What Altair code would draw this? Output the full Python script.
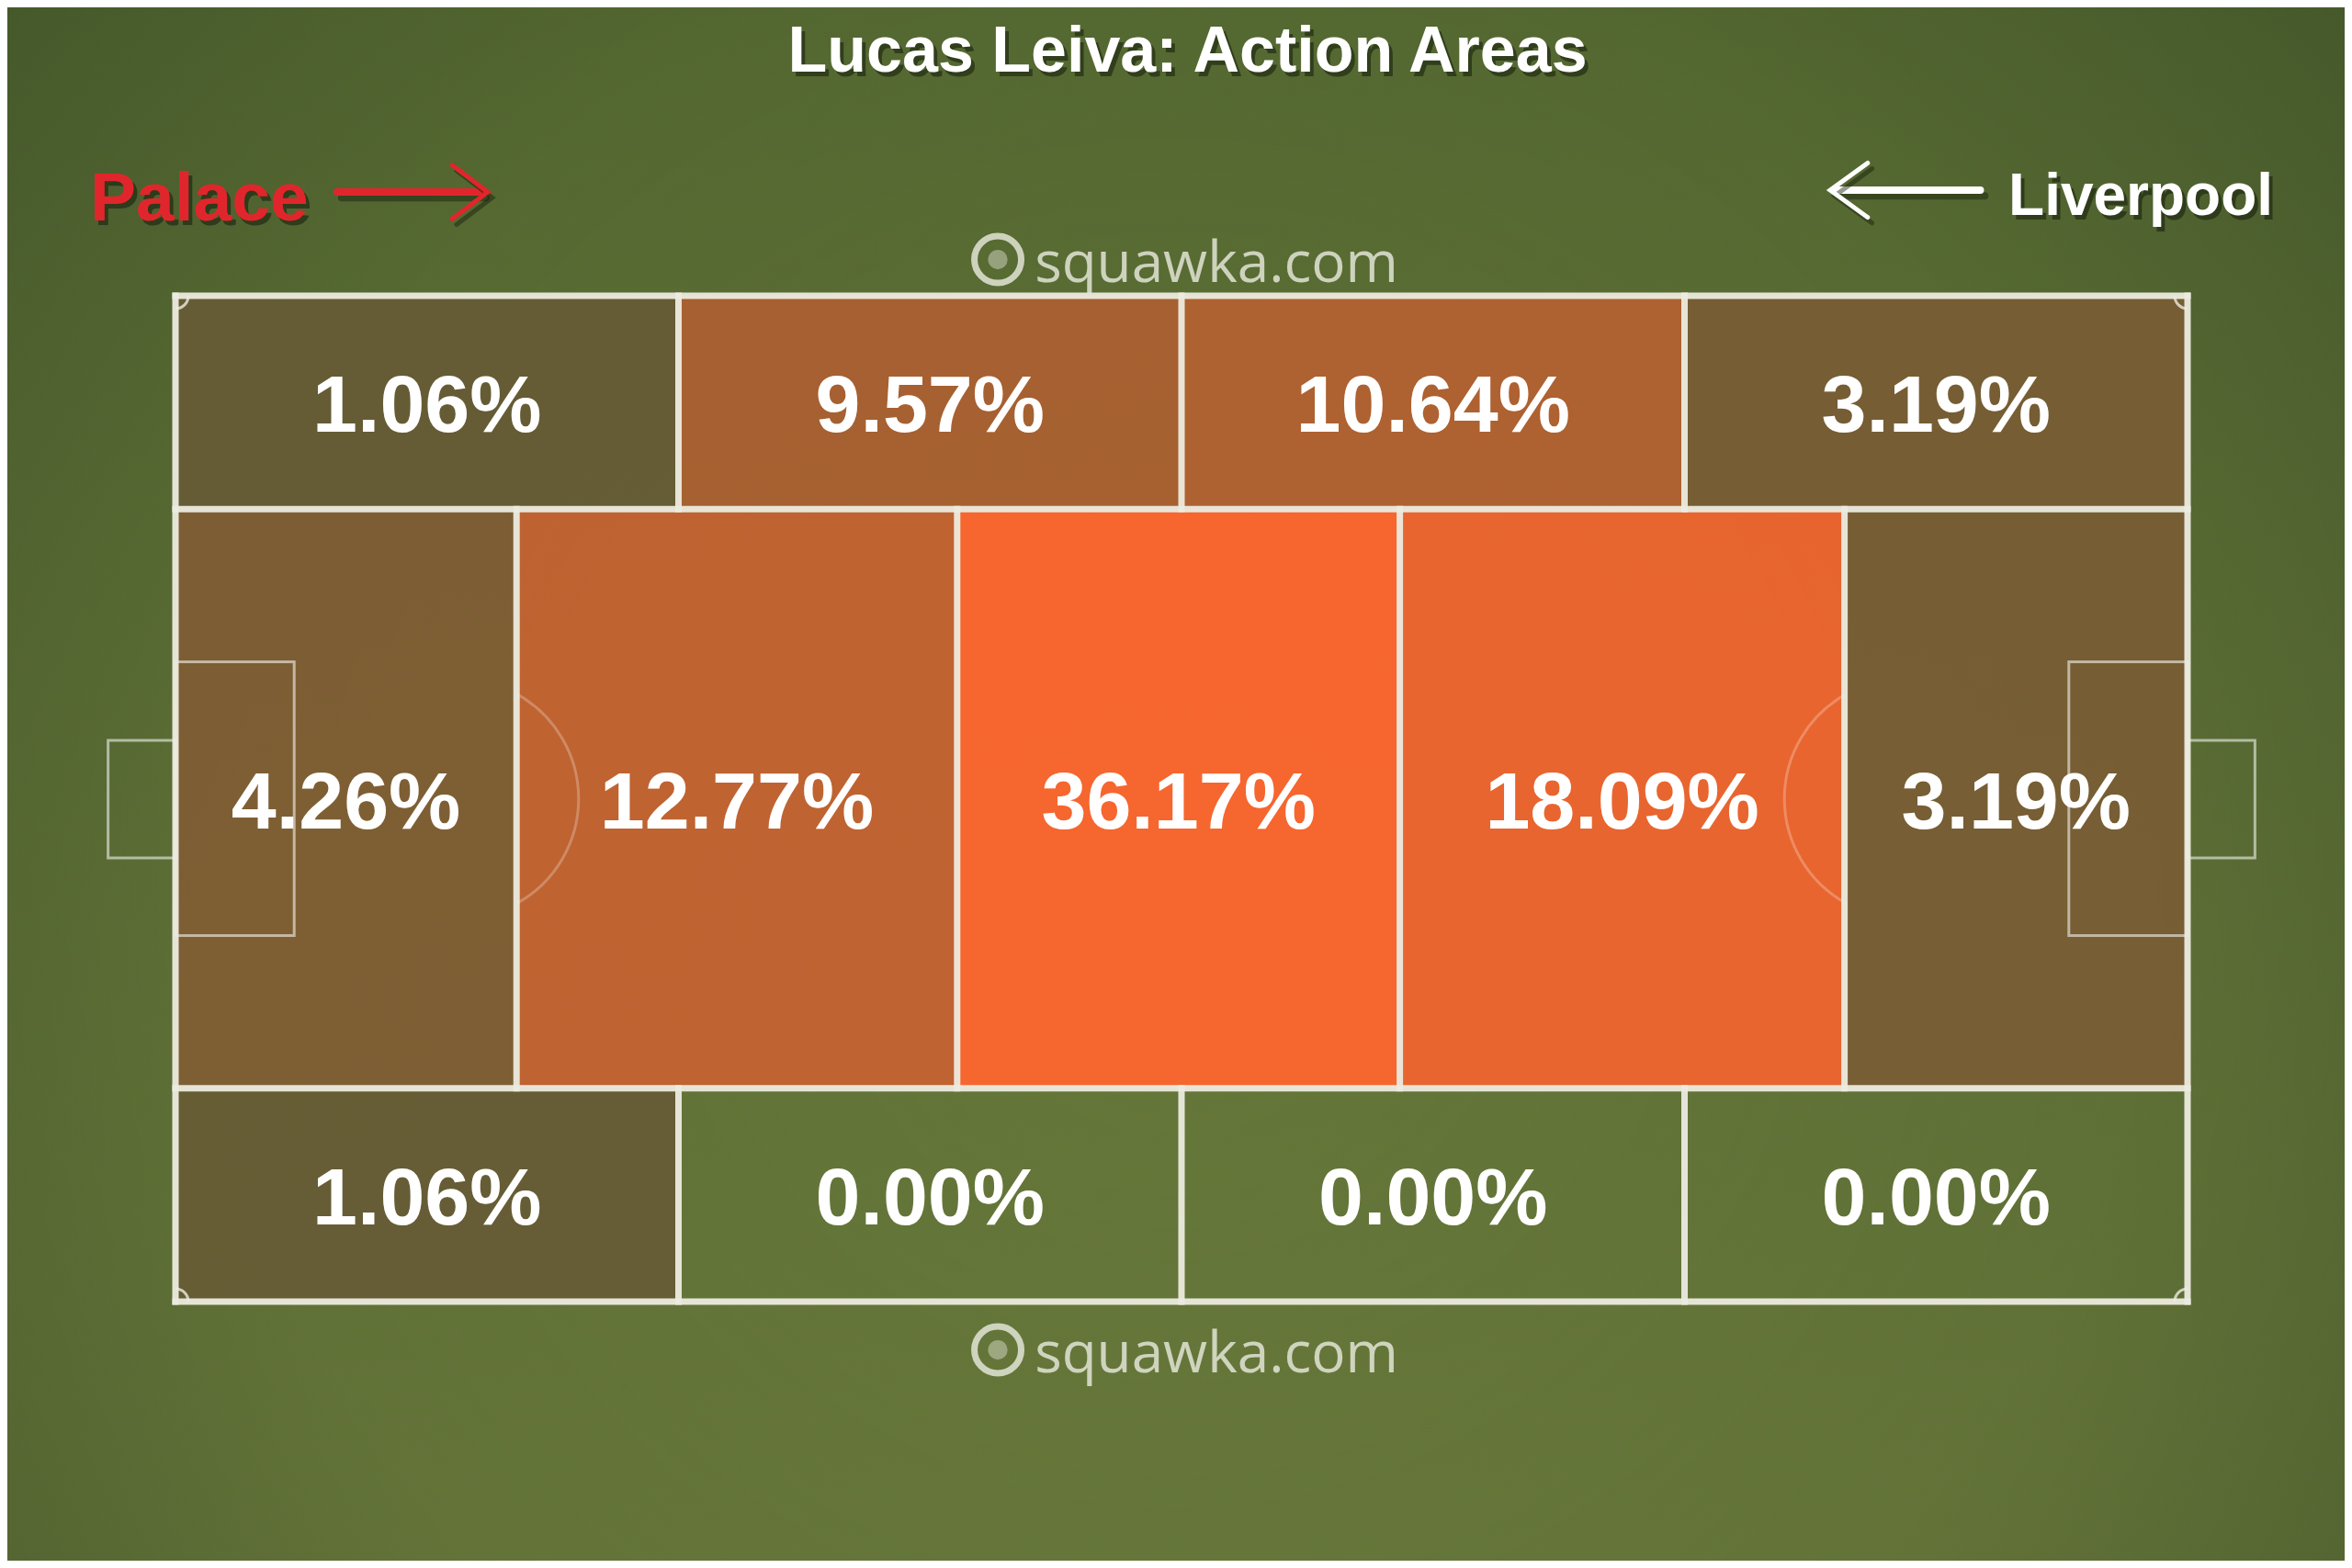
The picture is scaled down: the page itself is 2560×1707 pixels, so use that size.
import altair as alt
import pandas as pd

# ---------------- data ----------------
TITLE = "Lucas Leiva: Action Areas"
TEAM_LEFT = "Palace"
TEAM_RIGHT = "Liverpool"
WATERMARK = "squawka.com"

# zone edges in pitch units (length 0-100, width 0-50, y downwards)
row_edges = [0, 10.6, 39.4, 50]
top_edges = [0, 25, 50, 75, 100]
top_values = [1.06, 9.57, 10.64, 3.19]
mid_edges = [0, 16.95, 38.85, 60.85, 82.95, 100]
mid_values = [4.26, 12.77, 36.17, 18.09, 3.19]
bot_edges = [0, 25, 50, 75, 100]
bot_values = [1.06, 0.00, 0.00, 0.00]

# pitch furniture (pitch units)
box_x = [[0, 5.9], [94.1, 100]]
box_y = [18.2, 31.8]
goal_x = [[-3.35, 0], [100, 103.35]]
goal_y = [22.1, 27.95]
pen_spot_x = [14.1, 85.9]
pen_arc_theta = [[0.508, 2.634], [3.649, 5.775]]

# direction arrows (pitch units)
red_shaft_x = [8.04, 15.2]
red_shaft_y = [-5.16, -5.16]
red_head_x = [13.75, 15.52, 13.75]
red_head_y = [-6.5, -5.16, -3.82]
white_shaft_x = [82.6, 89.7]
white_shaft_y = [-5.25, -5.25]
white_head_x = [84.1, 82.24, 84.1]
white_head_y = [-6.6, -5.25, -3.9]

# ---------------- layout ----------------
W, H = 2544, 1691
PX = 21.9
X0_PX, Y0_PX = 183, 314
XDOM = [-X0_PX / PX, (W - X0_PX) / PX]
YDOM = [-Y0_PX / PX, (H - Y0_PX) / PX]
xs = alt.Scale(domain=XDOM, nice=False, zero=False)
ys = alt.Scale(domain=YDOM, nice=False, zero=False, reverse=True)


def X(f):
    return alt.X(f, type="quantitative", scale=xs, axis=None)


def Y(f):
    return alt.Y(f, type="quantitative", scale=ys, axis=None)


# ---------------- tables ----------------
rows = []
for r, (edges, vals) in enumerate([(top_edges, top_values), (mid_edges, mid_values), (bot_edges, bot_values)]):
    for i, v in enumerate(vals):
        rows.append(dict(x0=edges[i], x1=edges[i + 1], y0=row_edges[r], y1=row_edges[r + 1],
                         xc=(edges[i] + edges[i + 1]) / 2, yc=(row_edges[r] + row_edges[r + 1]) / 2,
                         value=v, label=f"{v:.2f}%"))
cell_df = pd.DataFrame(rows)

lines = []
lines += [dict(x=0, x2=100, y=0, y2=0), dict(x=0, x2=100, y=50, y2=50),
          dict(x=0, x2=0, y=0, y2=50), dict(x=100, x2=100, y=0, y2=50)]
for yy in row_edges[1:-1]:
    lines.append(dict(x=0, x2=100, y=yy, y2=yy))
for r, edges in enumerate([top_edges, mid_edges, bot_edges]):
    for e in edges[1:-1]:
        lines.append(dict(x=e, x2=e, y=row_edges[r], y2=row_edges[r + 1]))
line_df = pd.DataFrame(lines)

boxes = []
for bx in box_x:
    boxes.append(dict(x0=bx[0], x1=bx[1], y0=box_y[0], y1=box_y[1]))
for gx in goal_x:
    boxes.append(dict(x0=gx[0], x1=gx[1], y0=goal_y[0], y1=goal_y[1]))
box_df = pd.DataFrame(boxes)

pen_df = pd.DataFrame([dict(x=pen_spot_x[i], y=25, t1=pen_arc_theta[i][0], t2=pen_arc_theta[i][1]) for i in range(2)])
corner_df = pd.DataFrame([
    dict(x=0, y=0, t1=1.5708, t2=3.1416),
    dict(x=100, y=0, t1=3.1416, t2=4.7124),
    dict(x=100, y=50, t1=4.7124, t2=6.2832),
    dict(x=0, y=50, t1=0.0, t2=1.5708),
])


def path_df(xv, yv):
    return pd.DataFrame({"x": xv, "y": yv, "o": list(range(len(xv)))})


title_df = pd.DataFrame([dict(x=50.3, y=-11.15, t=TITLE)])
left_df = pd.DataFrame([dict(x=-4.25, y=-3.74, t=TEAM_LEFT)])
right_df = pd.DataFrame([dict(x=104.25, y=-4.0, t=TEAM_RIGHT)])
wm_df = pd.DataFrame([dict(x=42.7, y=-0.68, lx=40.87, ly=-1.8, t=WATERMARK),
                      dict(x=42.7, y=53.5, lx=40.87, ly=52.4, t=WATERMARK)])

bg_df = pd.DataFrame([dict(x0=XDOM[0], x1=XDOM[1], y0=YDOM[0], y1=YDOM[1])])

# ---------------- layers ----------------
bg1 = alt.Chart(bg_df).mark_rect(
    fill=alt.LinearGradient(gradient="linear", x1=0, y1=0, x2=0, y2=1,
                            stops=[alt.GradientStop(offset=0, color="#596d33"),
                                   alt.GradientStop(offset=1, color="#6b7b3c")])
).encode(x=X("x0"), x2=alt.X2("x1"), y=Y("y0"), y2=alt.Y2("y1"))

bg2 = alt.Chart(bg_df).mark_rect(
    fill=alt.RadialGradient(gradient="radial", x1=0.5, y1=0.55, r1=0, x2=0.5, y2=0.55, r2=0.75,
                            stops=[alt.GradientStop(offset=0, color="rgba(45,62,32,0)"),
                                   alt.GradientStop(offset=0.55, color="rgba(45,62,32,0.12)"),
                                   alt.GradientStop(offset=1, color="rgba(45,62,32,0.6)")])
).encode(x=X("x0"), x2=alt.X2("x1"), y=Y("y0"), y2=alt.Y2("y1"))

cells = alt.Chart(cell_df).transform_filter("datum.value > 0").mark_rect(opacity=0.95).encode(
    x=X("x0"), x2=alt.X2("x1"), y=Y("y0"), y2=alt.Y2("y1"),
    color=alt.Color("value:Q", scale=alt.Scale(domain=[1, 20], range=["#665c36", "#fe652e"], clamp=True,
                                               interpolate="rgb"),
                    legend=None),
)

box_layer = alt.Chart(box_df).mark_rect(fillOpacity=0, stroke="#ffffff", strokeOpacity=0.55, strokeWidth=3).encode(
    x=X("x0"), x2=alt.X2("x1"), y=Y("y0"), y2=alt.Y2("y1"))

pen_layer = alt.Chart(pen_df).mark_arc(fillOpacity=0, stroke="#ffffff", strokeOpacity=0.25, strokeWidth=3).encode(
    x=X("x"), y=Y("y"), theta=alt.Theta("t1:Q", scale=None), theta2=alt.Theta2("t2"),
    radius=alt.value(130), radius2=alt.value(130))

corner_layer = alt.Chart(corner_df).mark_arc(fillOpacity=0, stroke="#ecebdf", strokeOpacity=0.8, strokeWidth=3).encode(
    x=X("x"), y=Y("y"), theta=alt.Theta("t1:Q", scale=None), theta2=alt.Theta2("t2"),
    radius=alt.value(14), radius2=alt.value(14))

line_layer = alt.Chart(line_df).mark_rule(color="#ecebdf", strokeWidth=7, strokeCap="square", opacity=0.95).encode(
    x=X("x"), x2=alt.X2("x2"), y=Y("y"), y2=alt.Y2("y2"))

labels = alt.Chart(cell_df).mark_text(font="Liberation Sans", fontSize=88, fontWeight="bold", color="#ffffff",
                                      align="center", baseline="middle", dy=6).encode(
    x=X("xc"), y=Y("yc"), text="label:N")


def arrow_layers(xv, yv, color, width):
    df = path_df(xv, yv)
    shadow = alt.Chart(df).transform_calculate(sx="datum.x + 0.22", sy="datum.y + 0.28").mark_line(
        color="#141c0c", opacity=0.45, strokeWidth=width, strokeCap="round", strokeJoin="miter").encode(
        x=X("sx"), y=Y("sy"), order="o:Q")
    main = alt.Chart(df).mark_line(color=color, strokeWidth=width, strokeCap="round", strokeJoin="miter").encode(
        x=X("x"), y=Y("y"), order="o:Q")
    return [shadow, main]


arrows = (arrow_layers(red_shaft_x, red_shaft_y, "#e0262c", 8) + arrow_layers(red_head_x, red_head_y, "#e0262c", 5)
          + arrow_layers(white_shaft_x, white_shaft_y, "#ffffff", 8)
          + arrow_layers(white_head_x, white_head_y, "#ffffff", 5))

HFONT = "Liberation Sans"


def header(df, align, color, size):
    shadow = alt.Chart(df).mark_text(font=HFONT, fontSize=size, fontWeight="bold", color="#141c0c", opacity=0.55,
                                     align=align, baseline="alphabetic", dx=4, dy=5).encode(
        x=X("x"), y=Y("y"), text="t:N")
    main = alt.Chart(df).mark_text(font=HFONT, fontSize=size, fontWeight="bold", color=color,
                                   align=align, baseline="alphabetic").encode(
        x=X("x"), y=Y("y"), text="t:N")
    return [shadow, main]


title_layers = header(title_df, "center", "#ffffff", 70)
left_layers = header(left_df, "left", "#e0262c", 75)
right_layers = header(right_df, "right", "#ffffff", 64)

wm_text = alt.Chart(wm_df).mark_text(font="Open Sans", fontSize=62, color="#e2e5d6", opacity=0.85,
                                     align="left", baseline="alphabetic").encode(
    x=X("x"), y=Y("y"), text="t:N")
wm_logo = alt.Chart(wm_df).mark_point(shape="circle", filled=False, size=2600, strokeWidth=7,
                                      color="#e2e5d6", opacity=0.85).encode(x=X("lx"), y=Y("ly"))
wm_logo_in = alt.Chart(wm_df).mark_point(shape="circle", filled=True, size=450,
                                         color="#e2e5d6", opacity=0.45).encode(x=X("lx"), y=Y("ly"))

chart = alt.layer(
    bg1, bg2, cells, box_layer, pen_layer, corner_layer, line_layer, labels,
    *arrows, *title_layers, *left_layers, *right_layers, wm_text, wm_logo, wm_logo_in
).properties(
    width=W, height=H, autosize=alt.AutoSizeParams(type="none"), padding=0, background="#45582f"
).configure_view(strokeWidth=0)

chart.save("out.html", embed_options={"renderer": "svg", "actions": False})
